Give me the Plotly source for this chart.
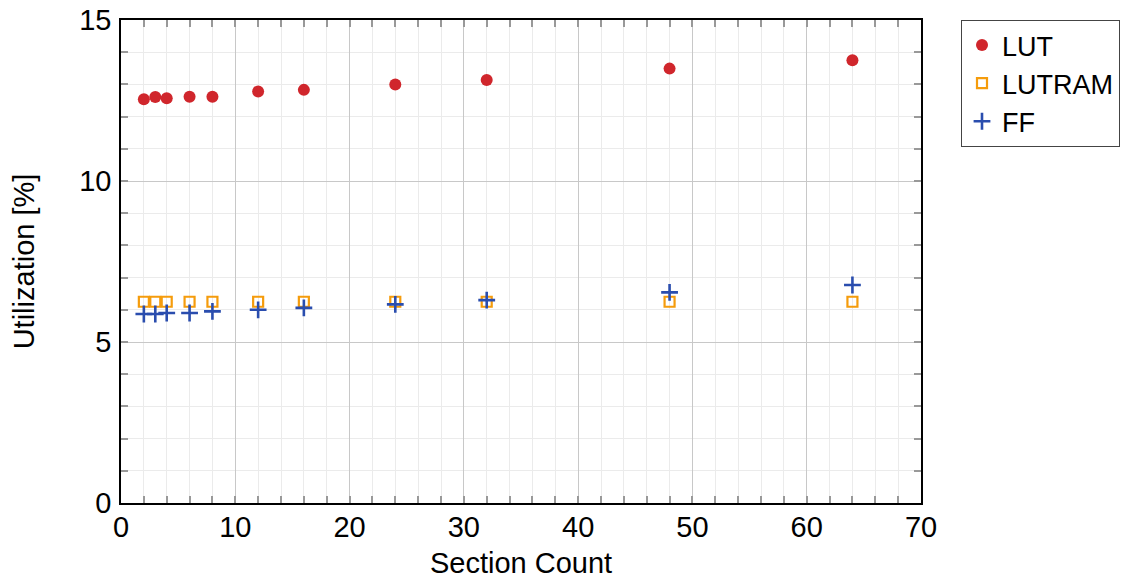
import plotly.graph_objects as go

section_count = [2, 3, 4, 6, 8, 12, 16, 24, 32, 48, 64]
lut = [12.54, 12.61, 12.57, 12.62, 12.62, 12.78, 12.83, 13.00, 13.14, 13.49, 13.75]
lutram = [6.25, 6.25, 6.25, 6.25, 6.25, 6.25, 6.25, 6.25, 6.25, 6.25, 6.25]
ff = [5.87, 5.87, 5.90, 5.90, 5.95, 6.00, 6.06, 6.17, 6.30, 6.54, 6.77]

FONT = "Liberation Sans, Arial, sans-serif"
FS = 29

fig = go.Figure()
fig.add_trace(go.Scatter(x=section_count, y=lut, mode="markers", name="LUT",
                         marker=dict(symbol="circle", size=12, color="#d0262c", line=dict(width=0))))
fig.add_trace(go.Scatter(x=section_count, y=lutram, mode="markers", name="LUTRAM",
                         marker=dict(symbol="square-open", size=10, color="#f59c0c", line=dict(width=2.2, color="#f59c0c"))))
fig.add_trace(go.Scatter(x=section_count, y=ff, mode="markers", name="FF",
                         marker=dict(symbol="cross-thin", size=12, color="#2a4dae", line=dict(width=2.6, color="#2a4dae"))))

axis_common = dict(
    showline=True, linecolor="black", linewidth=1.5, mirror="allticks",
    ticks="inside", ticklen=7, tickcolor="#999999", tickwidth=1.5,
    showgrid=True, gridcolor="#c8c8c8", gridwidth=1.2,
    zeroline=False,
    tickfont=dict(family=FONT, size=FS, color="black"),
)

fig.update_xaxes(
    range=[0, 70], dtick=10, tick0=0,
    minor=dict(dtick=2, ticks="inside", ticklen=7, tickcolor="#999999", tickwidth=1.5,
               showgrid=True, gridcolor="#ebebeb", gridwidth=1.2),
    title=dict(text="Section Count", font=dict(family=FONT, size=FS, color="black"), standoff=11),
    ticklabelstandoff=-3,
    **axis_common,
)
fig.update_yaxes(
    range=[0, 15], dtick=5, tick0=0,
    minor=dict(dtick=1, ticks="inside", ticklen=7, tickcolor="#999999", tickwidth=1.5,
               showgrid=True, gridcolor="#ebebeb", gridwidth=1.2),
    title=dict(text="Utilization [%]", font=dict(family=FONT, size=FS, color="black"), standoff=36),
    ticklabelstandoff=2,
    **axis_common,
)

fig.update_layout(
    width=1128, height=579,
    margin=dict(l=121, r=207, t=20, b=76, autoexpand=False),
    paper_bgcolor="white", plot_bgcolor="white",
    font=dict(family=FONT, size=FS, color="black"),
    legend=dict(x=1.05, y=1.0, xanchor="left", yanchor="top",
                bordercolor="#444444", borderwidth=1, bgcolor="white",
                font=dict(family=FONT, size=27, color="black"),
                itemwidth=30, tracegroupgap=0),
    showlegend=True,
)

fig.write_html("out.html")
